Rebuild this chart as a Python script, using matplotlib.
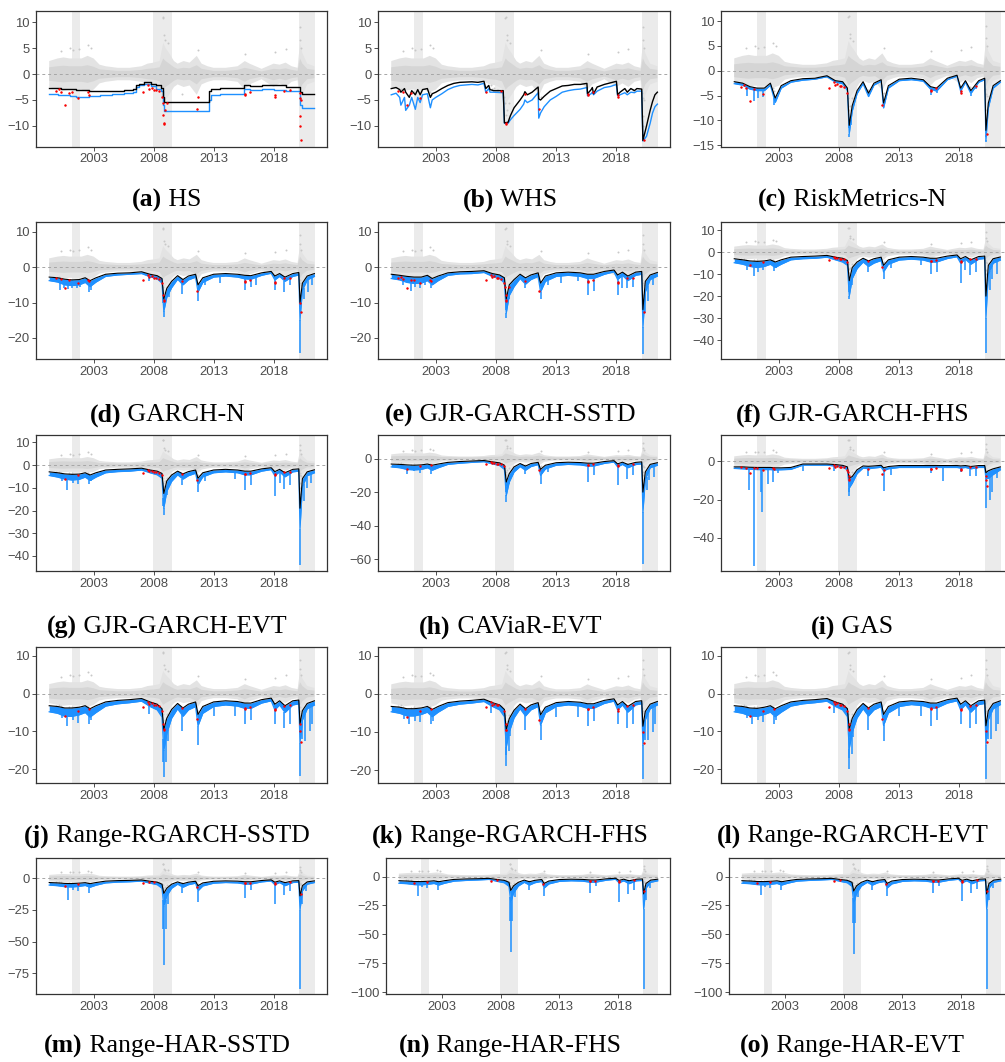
import numpy as np
import matplotlib
matplotlib.use("Agg")
import matplotlib.pyplot as plt

plt.rcParams['font.family'] = ['Liberation Sans', 'DejaVu Sans']

# ---------------- common data ----------------
recessions = [(2001.17, 2001.9), (2007.92, 2009.5), (2020.15, 2021.45)]
x_ticks = [2003, 2008, 2013, 2018]

# envelope of the daily return cloud
ret_t = [1999.3, 2000.0, 2000.5, 2001.0, 2001.5, 2002.0, 2002.5, 2003.0, 2003.5, 2004.0, 2005.0,
         2006.0, 2007.0, 2007.5, 2008.0, 2008.5, 2008.8, 2009.0, 2009.3, 2009.7, 2010.0, 2010.5,
         2011.0, 2011.6, 2012.0, 2012.5, 2013.0, 2014.0, 2015.0, 2015.6, 2016.0, 2017.0, 2018.0,
         2018.5, 2019.0, 2019.5, 2020.0, 2020.2, 2020.4, 2020.8, 2021.4]
ret_hi = [2.5, 3.0, 3.2, 3.0, 3.0, 3.0, 3.5, 3.0, 1.8, 1.5, 1.2, 1.2, 1.5, 2.0, 2.2, 2.5, 6.0, 5.0,
          4.0, 2.5, 2.0, 2.5, 2.2, 3.5, 2.0, 1.5, 1.2, 1.2, 1.5, 2.5, 2.0, 1.0, 2.0, 1.8, 2.2, 1.5,
          1.2, 6.0, 4.0, 2.0, 1.5]
ret_lo = [-2.5, -3.0, -3.2, -3.0, -3.0, -3.0, -3.5, -3.0, -1.8, -1.5, -1.2, -1.2, -1.5, -2.0, -2.2,
          -2.8, -6.0, -5.0, -4.0, -2.5, -2.0, -2.5, -2.2, -4.0, -2.0, -1.5, -1.2, -1.2, -1.5, -3.0,
          -2.0, -1.0, -2.5, -1.8, -2.5, -1.5, -1.2, -6.5, -4.0, -2.0, -1.5]
# dense core of the return cloud
core_hi = [1.3, 1.5, 1.6, 1.5, 1.5, 1.5, 1.7, 1.4, 0.9, 0.8, 0.6, 0.6, 0.8, 1.0, 1.1, 1.3, 3.0, 2.5,
           2.0, 1.3, 1.0, 1.2, 1.1, 1.7, 1.0, 0.8, 0.6, 0.6, 0.8, 1.2, 1.0, 0.5, 1.0, 0.9, 1.1, 0.8,
           0.6, 3.0, 2.0, 1.0, 0.8]
core_lo = [-1.3, -1.5, -1.6, -1.5, -1.5, -1.5, -1.7, -1.4, -0.9, -0.8, -0.6, -0.6, -0.8, -1.0, -1.1,
           -1.4, -3.0, -2.5, -2.0, -1.3, -1.0, -1.2, -1.1, -2.0, -1.0, -0.8, -0.6, -0.6, -0.8, -1.5,
           -1.0, -0.5, -1.2, -0.9, -1.2, -0.8, -0.6, -3.2, -2.0, -1.0, -0.8]
# isolated large positive returns
pos_t = [2000.3, 2001.0, 2001.3, 2001.75, 2002.55, 2002.8, 2008.78, 2008.82, 2008.88, 2008.95,
         2009.2, 2011.7, 2015.65, 2018.1, 2019.0, 2020.2, 2020.24, 2020.3]
pos_v = [4.5, 5.0, 4.6, 4.8, 5.6, 5.0, 10.8, 11.0, 7.5, 6.5, 6.0, 4.6, 3.9, 4.2, 4.8, 9.0, 6.5, 5.0]
# isolated large negative returns
neg_t = [1999.9, 2000.1, 2000.3, 2000.6, 2000.95, 2001.2, 2001.7, 2002.5, 2002.6, 2007.15, 2007.55,
         2007.65, 2007.85, 2008.05, 2008.2, 2008.45, 2008.7, 2008.76, 2008.8, 2008.83, 2008.86,
         2008.92, 2009.1, 2010.4, 2011.6, 2011.7, 2015.62, 2015.65, 2016.05, 2018.1, 2018.13,
         2018.85, 2019.4, 2020.16, 2020.19, 2020.21, 2020.23, 2020.25, 2020.3]
neg_v = [-3.2, -2.9, -3.4, -6.0, -3.6, -3.5, -4.6, -3.5, -4.0, -3.5, -2.2, -2.8, -2.6, -3.0, -3.0,
         -3.3, -4.5, -5.5, -7.9, -9.4, -9.6, -7.0, -5.5, -3.9, -6.8, -4.5, -3.9, -4.1, -3.5, -4.1,
         -4.4, -3.2, -3.0, -3.6, -4.6, -8.0, -10.0, -12.8, -5.0]

# ---------------- HS / WHS ----------------
hs_t = [1999.3, 2000.0, 2000.3, 2001.0, 2001.5, 2002.0, 2002.6, 2002.9, 2003.5, 2004.5, 2005.5,
        2006.3, 2006.5, 2006.8, 2007.2, 2007.8, 2008.2, 2008.6, 2008.75, 2008.85, 2012.6, 2012.8,
        2013.5, 2015.5, 2016.0, 2017.0, 2018.0, 2019.0, 2020.15, 2020.2, 2020.4, 2021.4]
hs_var = [-2.6, -2.7, -2.8, -2.9, -3.0, -3.0, -3.2, -3.2, -3.3, -3.2, -3.0, -2.8, -2.1, -1.9, -1.6,
          -1.9, -2.2, -2.7, -4.5, -5.3, -3.3, -2.9, -2.7, -2.2, -2.3, -2.1, -2.2, -2.5, -2.5, -3.5,
          -3.8, -3.8]
hs_es = [-3.9, -4.0, -4.0, -4.3, -4.4, -4.5, -4.3, -4.2, -4.1, -3.9, -3.7, -3.5, -2.5, -2.1, -1.9,
         -2.3, -2.8, -3.3, -6.0, -7.2, -5.0, -4.1, -3.8, -2.9, -3.0, -2.8, -3.0, -3.2, -3.2, -6.0,
         -6.5, -6.5]

whs_t = [1999.3, 1999.7, 2000.0, 2000.1, 2000.4, 2000.5, 2000.8, 2001.0, 2001.3, 2001.5, 2001.7,
         2001.9, 2002.3, 2002.55, 2002.7, 2003.0, 2003.5, 2004.0, 2004.5, 2005.0, 2006.0, 2006.5,
         2007.0, 2007.15, 2007.4, 2007.5, 2007.8, 2008.6, 2008.7, 2009.0, 2009.2, 2009.5, 2010.0,
         2010.3, 2010.4, 2010.6, 2011.0, 2011.5, 2011.55, 2011.7, 2012.0, 2012.5, 2013.0, 2013.5,
         2014.0, 2014.5, 2015.0, 2015.55, 2015.6, 2015.9, 2016.0, 2016.1, 2016.4, 2017.0, 2017.5,
         2018.0, 2018.1, 2018.3, 2018.7, 2018.9, 2019.2, 2019.5, 2019.7, 2020.1, 2020.2, 2020.5,
         2020.8, 2021.0, 2021.2, 2021.4]
whs_var = [-2.8, -2.6, -3.0, -3.5, -2.8, -3.5, -4.5, -3.2, -4.0, -3.0, -4.0, -3.0, -2.8, -4.5, -3.8,
           -3.5, -2.8, -2.2, -1.8, -1.6, -1.5, -1.6, -1.4, -2.8, -2.2, -3.0, -3.2, -3.2, -9.4, -9.3,
           -8.0, -6.5, -5.0, -4.0, -3.4, -4.0, -3.5, -2.5, -4.8, -5.0, -4.3, -3.3, -2.8, -2.3, -2.2,
           -2.0, -2.0, -1.8, -3.8, -3.0, -2.6, -3.8, -2.5, -2.0, -1.7, -1.4, -4.0, -3.5, -2.8, -3.5,
           -2.8, -3.2, -2.8, -2.9, -12.8, -10.0, -7.0, -5.3, -4.0, -3.5]
whs_es = [-4.0, -3.7, -4.5, -6.0, -4.5, -7.0, -6.0, -4.5, -6.8, -4.5, -5.5, -4.0, -3.8, -6.5, -5.0,
          -4.5, -3.8, -3.0, -2.5, -2.2, -2.0, -2.1, -1.8, -3.5, -2.8, -3.5, -3.5, -3.6, -9.5, -9.5,
          -8.8, -8.0, -6.8, -5.8, -5.0, -5.5, -5.0, -3.6, -8.5, -7.5, -6.3, -5.0, -4.3, -3.5, -3.2,
          -3.0, -2.9, -2.6, -4.2, -3.8, -3.5, -4.0, -3.3, -2.6, -2.4, -2.0, -4.2, -4.0, -3.6, -4.0,
          -3.5, -3.6, -3.3, -3.3, -12.9, -12.0, -9.5, -7.5, -6.3, -5.8]

# ---------------- parametric models: common time grid ----------------
tg = [1999.3, 2000.0, 2000.6, 2001.2, 2001.8, 2002.3, 2002.7, 2003.2, 2004.0, 2005.0, 2006.0,
      2007.0, 2007.7, 2008.3, 2008.7, 2008.85, 2009.1, 2009.5, 2010.0, 2010.45, 2010.9, 2011.5,
      2011.7, 2012.1, 2013.0, 2014.0, 2015.0, 2015.6, 2016.1, 2017.0, 2017.8, 2018.1, 2018.5,
      2018.95, 2019.6, 2020.1, 2020.2, 2020.4, 2020.8, 2021.4]

rm_var = [-2.2, -2.5, -3.2, -3.5, -3.5, -2.5, -5.5, -3.0, -2.0, -1.6, -1.5, -1.0, -2.0, -2.2, -3.5,
          -11.0, -7.0, -4.0, -2.2, -4.5, -2.5, -1.8, -6.5, -3.0, -1.7, -1.5, -1.8, -3.2, -3.5, -1.5,
          -0.9, -3.5, -2.0, -4.0, -2.0, -1.5, -12.0, -6.5, -3.0, -2.0]
rm_es = [-2.6, -2.9, -3.7, -4.0, -4.0, -2.9, -6.4, -3.5, -2.3, -1.9, -1.7, -1.2, -2.3, -2.6, -4.0,
         -12.7, -8.1, -4.6, -2.6, -5.2, -2.9, -2.1, -7.5, -3.5, -2.0, -1.8, -2.1, -3.7, -4.1, -1.8,
         -1.1, -4.1, -2.3, -4.6, -2.3, -1.8, -14.0, -7.5, -3.5, -2.3]
rm_spk_t = [2000.4, 2000.95, 2001.3, 2001.7, 2002.6, 2002.75, 2008.8, 2008.85, 2009.0, 2011.7,
            2015.6, 2016.1, 2018.1, 2018.95, 2019.4, 2020.2, 2020.22]
rm_spk_v = [-5.0, -6.0, -5.5, -5.3, -6.8, -6.0, -11.5, -13.3, -11.0, -7.5, -4.8, -4.5, -4.5, -5.0,
            -3.6, -14.3, -13.0]

gn_var = [-2.8, -3.0, -3.4, -3.6, -3.5, -3.0, -3.8, -3.0, -2.0, -1.7, -1.6, -1.3, -2.0, -2.4, -3.2,
          -9.0, -6.0, -4.0, -2.4, -3.5, -2.5, -2.0, -5.0, -3.0, -2.0, -1.8, -2.0, -2.3, -2.4, -1.6,
          -1.2, -2.5, -1.8, -2.8, -1.8, -1.5, -10.0, -4.5, -2.5, -1.8]
gn_es = [-3.8, -4.2, -5.0, -5.2, -5.0, -4.3, -5.5, -4.2, -2.6, -2.2, -2.0, -1.8, -2.7, -3.3, -4.5,
         -12.5, -8.5, -5.8, -3.4, -5.0, -3.6, -2.8, -7.0, -4.3, -2.8, -2.5, -2.8, -3.3, -3.4, -2.3,
         -1.7, -3.6, -2.6, -4.0, -2.6, -2.2, -15.0, -6.5, -3.6, -2.6]
gn_spk_t = [2000.2, 2000.55, 2000.9, 2001.2, 2001.6, 2001.9, 2002.6, 2002.8, 2007.6, 2008.75,
            2008.85, 2009.05, 2009.3, 2010.4, 2011.7, 2012.3, 2013.5, 2015.6, 2016.1, 2016.5,
            2018.1, 2018.9, 2019.4, 2020.2, 2020.5, 2020.9, 2021.2]
gn_spk_v = [-6.5, -5.8, -6.3, -6.0, -5.8, -5.5, -7.0, -6.5, -4.0, -10.0, -14.2, -9.0, -8.5, -7.5,
            -9.5, -5.0, -4.5, -6.5, -5.5, -5.0, -6.5, -7.0, -5.0, -24.3, -9.0, -7.0, -5.0]

gs_var = [-2.0, -2.3, -2.6, -2.8, -2.8, -2.3, -3.2, -2.5, -1.6, -1.3, -1.2, -1.0, -1.8, -2.2, -3.0,
          -9.0, -5.0, -3.5, -2.0, -3.0, -2.2, -1.6, -4.5, -2.5, -1.6, -1.4, -1.6, -2.0, -2.0, -1.2,
          -0.8, -2.2, -1.4, -2.5, -1.4, -1.2, -12.0, -4.0, -2.2, -1.5]
gs_es = [-3.2, -3.6, -4.3, -4.6, -4.5, -3.8, -5.0, -3.8, -2.3, -1.9, -1.8, -1.5, -2.6, -3.2, -4.5,
         -13.0, -8.0, -5.5, -3.2, -4.8, -3.5, -2.6, -7.0, -4.0, -2.6, -2.3, -2.6, -3.2, -3.2, -2.0,
         -1.3, -3.5, -2.3, -3.8, -2.3, -2.0, -17.0, -7.0, -3.5, -2.5]
gs_spk_t = [2000.3, 2000.95, 2001.3, 2001.7, 2002.1, 2002.6, 2008.8, 2008.85, 2009.1, 2010.4,
            2011.7, 2012.3, 2013.4, 2014.8, 2015.6, 2016.1, 2018.1, 2018.5, 2018.9, 2019.4,
            2020.2, 2020.4, 2020.6, 2021.0]
gs_spk_v = [-5.0, -6.8, -5.5, -6.0, -5.0, -6.0, -12.0, -14.3, -9.0, -6.0, -9.0, -5.0, -4.5, -4.0,
            -7.8, -6.8, -8.0, -6.0, -6.0, -5.5, -24.5, -13.0, -9.5, -5.0]

gf_var = [-3.0, -3.5, -4.0, -4.2, -4.0, -3.5, -4.5, -3.5, -2.3, -2.0, -1.8, -1.5, -2.3, -2.8, -3.8,
          -13.0, -7.0, -4.5, -2.8, -4.0, -3.0, -2.3, -6.0, -3.5, -2.3, -2.0, -2.3, -2.8, -2.8, -1.8,
          -1.3, -3.0, -2.0, -3.5, -2.0, -1.8, -20.0, -6.0, -3.0, -2.2]
gf_es = [-4.8, -5.5, -6.5, -7.0, -6.5, -5.5, -7.0, -5.5, -3.5, -3.0, -2.8, -2.3, -3.5, -4.5, -6.0,
         -20.0, -12.0, -7.5, -4.5, -6.5, -5.0, -3.8, -9.0, -5.5, -3.6, -3.2, -3.6, -4.5, -4.5, -2.9,
         -2.1, -5.0, -3.2, -5.5, -3.2, -2.9, -30.0, -10.0, -5.0, -3.6]
gf_spk_t = [2000.4, 2000.9, 2001.3, 2001.7, 2002.6, 2002.8, 2008.8, 2008.85, 2009.1, 2010.4,
            2011.7, 2012.3, 2014.8, 2015.6, 2016.1, 2018.1, 2018.5, 2018.9, 2019.4, 2020.2,
            2020.5, 2020.7, 2021.1]
gf_spk_v = [-8.0, -11.0, -9.0, -8.0, -8.5, -7.0, -18.0, -21.5, -15.0, -9.0, -12.0, -7.0, -6.0,
            -10.0, -9.0, -14.0, -8.0, -10.5, -9.0, -46.0, -17.0, -12.0, -10.0]

ge_var = [-3.0, -3.4, -3.9, -4.1, -4.0, -3.4, -4.4, -3.4, -2.2, -1.9, -1.7, -1.4, -2.2, -2.7, -3.7,
          -12.5, -7.0, -4.4, -2.7, -3.9, -2.9, -2.2, -5.8, -3.4, -2.2, -1.9, -2.2, -2.7, -2.7, -1.7,
          -1.2, -2.9, -1.9, -3.4, -1.9, -1.7, -19.0, -6.0, -3.0, -2.1]
ge_es = [-4.6, -5.3, -6.2, -6.6, -6.3, -5.3, -6.8, -5.3, -3.4, -2.9, -2.7, -2.2, -3.4, -4.3, -5.8,
         -19.0, -11.5, -7.2, -4.3, -6.2, -4.7, -3.6, -8.6, -5.2, -3.4, -3.0, -3.4, -4.3, -4.3, -2.7,
         -2.0, -4.7, -3.0, -5.2, -3.0, -2.7, -28.0, -9.5, -4.7, -3.4]
ge_spk_t = [2000.4, 2000.8, 2001.3, 2001.7, 2002.6, 2002.8, 2008.8, 2008.85, 2009.1, 2010.4,
            2011.7, 2012.3, 2014.8, 2015.6, 2016.1, 2018.1, 2018.5, 2018.9, 2019.4, 2020.2,
            2020.5, 2020.75, 2021.1]
ge_spk_v = [-7.0, -11.0, -8.0, -8.5, -8.5, -7.0, -18.0, -22.0, -13.0, -9.0, -12.0, -7.0, -6.0,
            -11.0, -9.0, -13.5, -8.0, -10.5, -9.0, -44.0, -16.0, -10.0, -8.0]

cv_var = [-3.3, -3.5, -3.8, -4.0, -3.8, -3.3, -4.0, -3.3, -2.3, -1.8, -1.5, -1.2, -2.0, -2.6, -4.0,
          -14.0, -9.0, -5.0, -3.0, -4.5, -3.0, -2.3, -6.5, -4.0, -2.5, -2.2, -2.4, -2.8, -2.8, -1.8,
          -1.3, -3.2, -2.2, -3.5, -2.3, -2.0, -20.0, -8.0, -3.5, -2.5]
cv_es = [-5.0, -5.5, -6.5, -6.8, -6.5, -5.5, -7.0, -5.5, -3.5, -2.8, -2.3, -1.9, -3.2, -4.2, -6.5,
         -22.0, -14.0, -8.0, -4.8, -7.0, -4.8, -3.6, -10.0, -6.2, -4.0, -3.5, -3.8, -4.5, -4.5, -2.9,
         -2.1, -5.0, -3.5, -5.5, -3.6, -3.2, -32.0, -12.5, -5.5, -4.0]
cv_spk_t = [2000.6, 2001.2, 2001.7, 2002.6, 2008.8, 2008.85, 2009.1, 2010.4, 2011.7, 2012.3,
            2015.6, 2016.1, 2018.1, 2018.9, 2019.4, 2020.2, 2020.5, 2020.7, 2021.1]
cv_spk_v = [-9.0, -7.5, -8.5, -9.0, -20.0, -26.0, -15.0, -9.0, -15.0, -8.0, -14.0, -10.0, -15.5,
            -12.0, -10.0, -63.0, -19.0, -13.0, -11.0]

gas_var = [-3.0, -3.0, -3.2, -3.3, -3.3, -3.3, -3.5, -3.5, -3.3, -1.5, -1.5, -1.5, -1.8, -2.2, -3.0,
           -9.0, -8.0, -4.5, -2.5, -2.7, -2.5, -2.2, -3.5, -2.8, -2.3, -2.3, -2.3, -2.3, -2.3, -2.3,
           -2.3, -2.5, -2.3, -2.8, -2.3, -2.3, -6.0, -5.0, -4.0, -3.0]
gas_es = [-3.8, -4.0, -4.2, -4.4, -4.4, -4.4, -4.6, -4.5, -4.3, -2.1, -2.1, -2.1, -2.6, -3.2, -4.5,
          -14.0, -11.5, -6.5, -3.6, -4.0, -3.6, -3.2, -5.0, -4.0, -3.3, -3.3, -3.3, -3.3, -3.3, -3.3,
          -3.3, -3.6, -3.3, -4.0, -3.3, -3.3, -9.0, -9.0, -7.0, -4.5]
gas_spk_t = [2000.5, 2000.9, 2001.5, 2001.6, 2002.1, 2002.5, 2002.9, 2005.0, 2007.6, 2008.8,
             2008.85, 2009.1, 2010.4, 2011.7, 2012.3, 2015.6, 2016.6, 2018.1, 2018.9, 2019.4,
             2020.2, 2020.5, 2020.7, 2021.1]
gas_spk_v = [-15.0, -54.5, -16.0, -26.5, -12.0, -11.0, -6.0, -5.0, -5.0, -16.0, -18.0, -12.0, -8.0,
             -15.5, -7.0, -6.0, -10.5, -5.5, -8.0, -7.5, -24.5, -20.0, -16.0, -9.0]

rg_spk_t = [2000.4, 2000.8, 2001.3, 2001.7, 2002.6, 2002.8, 2007.6, 2008.8, 2008.85, 2009.05,
            2009.2, 2010.4, 2011.7, 2013.0, 2014.8, 2015.6, 2016.1, 2018.1, 2018.9, 2019.4,
            2020.2, 2020.4, 2020.6, 2021.0, 2021.2]

rgs_var = [-3.2, -3.4, -3.8, -3.8, -3.6, -3.2, -4.0, -3.2, -2.2, -1.8, -1.6, -1.3, -2.2, -2.8, -4.0,
           -9.5, -6.5, -4.2, -2.6, -3.8, -2.8, -2.2, -5.5, -3.4, -2.2, -1.9, -2.1, -2.5, -2.5, -1.6,
           -1.2, -2.8, -1.9, -3.2, -1.9, -1.7, -8.0, -4.5, -2.6, -1.9]
rgs_es = [-4.8, -5.2, -6.0, -6.0, -5.6, -5.0, -6.2, -5.0, -3.3, -2.7, -2.4, -2.0, -3.4, -4.3, -6.2,
          -15.0, -10.5, -6.5, -4.0, -6.0, -4.3, -3.4, -8.5, -5.2, -3.4, -3.0, -3.3, -3.9, -3.9, -2.5,
          -1.9, -4.3, -3.0, -5.0, -3.0, -2.7, -13.0, -7.0, -4.0, -3.0]
rgs_spk_v = [-6.5, -8.5, -7.0, -7.8, -8.0, -7.0, -5.5, -18.0, -22.0, -18.0, -12.5, -10.0, -13.5,
             -6.0, -6.0, -8.0, -7.0, -8.0, -9.0, -8.0, -21.8, -12.0, -12.5, -10.0, -8.0]

rgf_var = [-3.3, -3.5, -3.9, -3.9, -3.7, -3.3, -4.1, -3.3, -2.3, -1.9, -1.7, -1.4, -2.3, -2.9, -4.1,
           -9.5, -6.5, -4.3, -2.7, -3.9, -2.9, -2.3, -5.5, -3.5, -2.3, -2.0, -2.2, -2.6, -2.6, -1.7,
           -1.3, -2.9, -2.0, -3.3, -2.0, -1.8, -8.5, -4.6, -2.7, -2.0]
rgf_es = [-4.7, -5.1, -5.8, -5.8, -5.4, -4.8, -6.0, -4.8, -3.3, -2.7, -2.4, -2.0, -3.3, -4.2, -6.0,
          -14.0, -10.0, -6.3, -3.9, -5.8, -4.2, -3.3, -8.2, -5.0, -3.3, -2.9, -3.2, -3.8, -3.8, -2.5,
          -1.9, -4.2, -2.9, -4.8, -2.9, -2.6, -13.5, -6.8, -3.9, -2.9]
rgf_spk_v = [-6.5, -8.0, -7.0, -7.5, -8.0, -7.0, -5.0, -16.0, -19.0, -15.0, -11.0, -9.5, -12.0,
             -6.0, -6.0, -8.5, -7.0, -8.0, -9.0, -8.0, -22.3, -12.0, -12.0, -10.0, -8.0]

rge_var = [-3.2, -3.4, -3.8, -3.9, -3.6, -3.2, -4.0, -3.2, -2.2, -1.8, -1.6, -1.3, -2.2, -2.8, -4.0,
           -9.5, -6.5, -4.2, -2.6, -3.8, -2.8, -2.2, -5.5, -3.4, -2.2, -1.9, -2.1, -2.5, -2.5, -1.6,
           -1.2, -2.8, -1.9, -3.2, -1.9, -1.7, -8.5, -4.5, -2.6, -1.9]
rge_es = [-4.8, -5.2, -5.9, -6.0, -5.5, -4.9, -6.1, -4.9, -3.3, -2.7, -2.4, -2.0, -3.4, -4.3, -6.1,
          -14.5, -10.2, -6.4, -4.0, -5.9, -4.3, -3.4, -8.4, -5.1, -3.4, -2.9, -3.2, -3.8, -3.8, -2.5,
          -1.9, -4.3, -2.9, -4.9, -2.9, -2.6, -13.5, -6.9, -4.0, -2.9]
rge_spk_v = [-6.5, -8.0, -7.0, -7.5, -8.0, -7.0, -5.0, -17.0, -20.0, -16.0, -11.5, -9.5, -12.5,
             -6.0, -6.0, -8.5, -7.0, -8.0, -9.0, -8.0, -22.5, -12.0, -12.0, -10.0, -8.0]

har_spk_t = [2000.9, 2001.3, 2001.7, 2002.6, 2008.8, 2008.85, 2009.0, 2009.2, 2010.4, 2011.7,
             2015.6, 2016.1, 2018.1, 2018.9, 2019.4, 2020.2, 2020.4, 2020.7]

hs_sstd_var = [-3.5, -3.8, -4.2, -4.3, -4.0, -3.6, -4.4, -3.5, -2.4, -2.0, -1.8, -1.5, -2.5, -3.2,
               -4.8, -12.0, -8.0, -4.8, -3.0, -4.4, -3.2, -2.5, -6.0, -3.8, -2.5, -2.2, -2.4, -2.9,
               -2.9, -1.9, -1.4, -3.2, -2.2, -3.6, -2.2, -2.0, -14.0, -6.0, -3.0, -2.2]
hs_sstd_es = [-5.5, -6.0, -6.8, -7.0, -6.5, -5.8, -7.2, -5.6, -3.8, -3.2, -2.9, -2.4, -4.0, -5.2,
              -8.0, -22.0, -14.0, -8.0, -4.8, -7.2, -5.2, -4.0, -10.0, -6.2, -4.0, -3.5, -3.8,
              -4.7, -4.7, -3.0, -2.3, -5.2, -3.5, -6.0, -3.5, -3.2, -25.0, -10.0, -4.8, -3.5]
hs_sstd_spk_v = [-17.0, -9.0, -10.0, -12.0, -40.0, -68.0, -40.0, -20.0, -12.0, -19.0, -16.0, -9.0,
                 -20.0, -13.0, -10.0, -87.0, -20.0, -10.0]

hf_var = [-3.6, -3.9, -4.3, -4.4, -4.1, -3.7, -4.5, -3.6, -2.5, -2.1, -1.9, -1.6, -2.6, -3.3, -5.0,
          -12.0, -8.0, -5.0, -3.1, -4.5, -3.3, -2.6, -6.0, -3.9, -2.6, -2.3, -2.5, -3.0, -3.0, -2.0,
          -1.5, -3.3, -2.3, -3.7, -2.3, -2.1, -15.0, -6.0, -3.1, -2.3]
hf_es = [-5.8, -6.2, -7.0, -7.2, -6.7, -6.0, -7.4, -5.8, -4.0, -3.4, -3.0, -2.5, -4.2, -5.4, -8.5,
         -22.0, -14.0, -8.2, -5.0, -7.4, -5.4, -4.2, -10.0, -6.4, -4.2, -3.7, -4.0, -4.9, -4.9, -3.2,
         -2.4, -5.4, -3.7, -6.2, -3.7, -3.4, -28.0, -10.0, -5.0, -3.7]
hf_spk_v = [-17.0, -9.0, -10.0, -12.0, -38.0, -65.0, -38.0, -18.0, -12.0, -17.0, -14.0, -8.0,
            -22.0, -15.0, -12.0, -97.0, -20.0, -10.0]

he_var = [-3.6, -3.9, -4.3, -4.4, -4.1, -3.7, -4.5, -3.6, -2.5, -2.1, -1.9, -1.6, -2.6, -3.3, -5.0,
          -12.5, -8.0, -5.0, -3.1, -4.5, -3.3, -2.6, -6.0, -3.9, -2.6, -2.3, -2.5, -3.0, -3.0, -2.0,
          -1.5, -3.3, -2.3, -3.7, -2.3, -2.1, -15.0, -6.0, -3.1, -2.3]
he_es = [-5.8, -6.2, -7.0, -7.2, -6.7, -6.0, -7.4, -5.8, -4.0, -3.4, -3.0, -2.5, -4.2, -5.4, -8.5,
         -23.0, -14.5, -8.2, -5.0, -7.4, -5.4, -4.2, -10.0, -6.4, -4.2, -3.7, -4.0, -4.9, -4.9, -3.2,
         -2.4, -5.4, -3.7, -6.2, -3.7, -3.4, -28.0, -10.0, -5.0, -3.7]
he_spk_v = [-16.0, -9.0, -10.0, -12.0, -40.0, -67.0, -40.0, -18.0, -12.0, -17.0, -14.0, -8.0,
            -21.0, -14.0, -11.0, -97.0, -20.0, -10.0]

letters = list("abcdefghijklmno")
names = ["HS", "WHS", "RiskMetrics-N", "GARCH-N", "GJR-GARCH-SSTD", "GJR-GARCH-FHS",
         "GJR-GARCH-EVT", "CAViaR-EVT", "GAS", "Range-RGARCH-SSTD", "Range-RGARCH-FHS",
         "Range-RGARCH-EVT", "Range-HAR-SSTD", "Range-HAR-FHS", "Range-HAR-EVT"]
ylims = [(-14.0, 12.2), (-14.0, 12.2), (-15.3, 12.1), (-26.0, 12.8), (-26.0, 12.8), (-48.6, 13.7),
         (-46.6, 13.2), (-67.0, 14.0), (-57.2, 13.6), (-23.6, 12.3), (-23.4, 12.3), (-23.6, 12.3),
         (-91.2, 15.8), (-101.5, 16.0), (-101.5, 16.0)]
yticks = [[-10, -5, 0, 5, 10], [-10, -5, 0, 5, 10], [-15, -10, -5, 0, 5, 10], [-20, -10, 0, 10],
          [-20, -10, 0, 10], [-40, -30, -20, -10, 0, 10], [-40, -30, -20, -10, 0, 10],
          [-60, -40, -20, 0], [-40, -20, 0], [-20, -10, 0, 10], [-20, -10, 0, 10], [-20, -10, 0, 10],
          [-75, -50, -25, 0], [-100, -75, -50, -25, 0], [-100, -75, -50, -25, 0]]

param_models = [
    (tg, rm_var, rm_es, rm_spk_t, rm_spk_v),
    (tg, gn_var, gn_es, gn_spk_t, gn_spk_v),
    (tg, gs_var, gs_es, gs_spk_t, gs_spk_v),
    (tg, gf_var, gf_es, gf_spk_t, gf_spk_v),
    (tg, ge_var, ge_es, ge_spk_t, ge_spk_v),
    (tg, cv_var, cv_es, cv_spk_t, cv_spk_v),
    (tg, gas_var, gas_es, gas_spk_t, gas_spk_v),
    (tg, rgs_var, rgs_es, rg_spk_t, rgs_spk_v),
    (tg, rgf_var, rgf_es, rg_spk_t, rgf_spk_v),
    (tg, rge_var, rge_es, rg_spk_t, rge_spk_v),
    (tg, hs_sstd_var, hs_sstd_es, har_spk_t, hs_sstd_spk_v),
    (tg, hf_var, hf_es, har_spk_t, hf_spk_v),
    (tg, he_var, he_es, har_spk_t, he_spk_v),
]

# ---------------- layout (pixels) ----------------
W, H = 1005, 1062
fig = plt.figure(figsize=(W / 100, H / 100), dpi=100)
fig.patch.set_facecolor("white")

rows = [(10.7, 146.7, 200), (222, 359, 415), (435, 571, 627), (647, 783, 836), (858, 994, 1046)]
col_lr = [(36, 327), (378, 670), (721, 1013)]
col_cx = [167, 510, 852]
left_override = {13: (386, 670), 14: (729, 1013)}

BLUE = "#1E90FF"
GREY_PTS = "#c8c8c8"


def add_ax(l, t, r, b):
    return fig.add_axes([l / W, 1 - b / H, (r - l) / W, (b - t) / H])


def draw_base(ax, k):
    for a, b in recessions:
        ax.axvspan(a, b, color="#ebebeb", lw=0, zorder=0)
    ax.fill_between(ret_t, ret_lo, ret_hi, facecolor="#e3e3e3", lw=0, zorder=1)
    ax.fill_between(ret_t, core_lo, core_hi, facecolor="#d5d5d5", lw=0, zorder=1)
    ax.scatter(pos_t, pos_v, s=2, color=GREY_PTS, lw=0, zorder=1)
    ax.scatter(neg_t, neg_v, s=2, color=GREY_PTS, lw=0, zorder=1)
    ax.axhline(0, color="#a6a6a6", lw=0.7, ls=(0, (3, 3)), zorder=2)


def draw_red(ax, t, var):
    thr = np.interp(neg_t, t, var)
    nt = np.asarray(neg_t)
    nv = np.asarray(neg_v)
    m = nv < thr
    ax.scatter(nt[m], nv[m], s=3, color="red", lw=0, zorder=6)


def style(ax, k):
    ax.set_xlim(1998.2, 2022.45)
    ax.set_ylim(*ylims[k])
    ax.set_xticks(x_ticks)
    ax.set_yticks(yticks[k])
    for s in ax.spines.values():
        s.set_color("#333333")
        s.set_linewidth(0.9)
    ax.tick_params(length=2.8, width=0.6, color="#333333", labelcolor="#4d4d4d",
                   labelsize=9.4, pad=2)


renderer = fig.canvas.get_renderer()


def caption(xc, yc, letter, name):
    t1 = fig.text(0, 0, f"({letter})", family="Liberation Serif", weight="bold", fontsize=18.5,
                  va="center")
    t2 = fig.text(0, 0, " " + name, family="Liberation Serif", fontsize=18.5, va="center")
    w1 = t1.get_window_extent(renderer).width
    w2 = t2.get_window_extent(renderer).width
    x0 = xc - (w1 + w2) / 2
    t1.set_position((x0 / W, 1 - yc / H))
    t2.set_position(((x0 + w1) / W, 1 - yc / H))


for k in range(15):
    r, c = divmod(k, 3)
    top, bot, cy = rows[r]
    l, rr = left_override.get(k, col_lr[c])
    ax = add_ax(l, top, rr, bot)
    draw_base(ax, k)
    if k == 0:
        ax.plot(hs_t, hs_es, color=BLUE, lw=1.0, drawstyle="steps-post", zorder=3)
        ax.plot(hs_t, hs_var, color="black", lw=1.0, drawstyle="steps-post", zorder=4)
        draw_red(ax, hs_t, hs_var)
    elif k == 1:
        ax.plot(whs_t, whs_es, color=BLUE, lw=1.0, zorder=3)
        ax.plot(whs_t, whs_var, color="black", lw=1.0, zorder=4)
        draw_red(ax, whs_t, whs_var)
    else:
        t, var, es, st, sv = param_models[k - 2]
        ax.fill_between(t, var, es, color=BLUE, lw=0, zorder=3)
        ax.plot(t, es, color=BLUE, lw=0.9, zorder=3)
        base = np.interp(st, t, es)
        ax.vlines(st, base, sv, color=BLUE, lw=1.1, zorder=3)
        ax.plot(t, var, color="black", lw=0.8, zorder=4)
        draw_red(ax, t, var)
    style(ax, k)
    caption(col_cx[c], cy, letters[k], names[k])

fig.savefig("out.png", dpi=100, facecolor="white")
